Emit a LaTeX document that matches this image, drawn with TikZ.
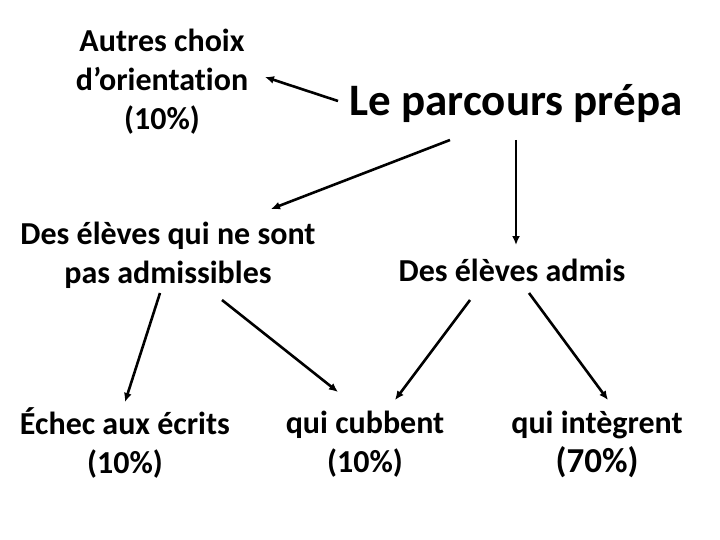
\documentclass[tikz,border=0pt]{standalone}
\usepackage{fontspec}
\setmainfont{Carlito}[Ligatures=NoCommon]
\usetikzlibrary{arrows.meta}
\usetikzlibrary{positioning}

\begin{document}
\begin{tikzpicture}
    [x=1pt,y=-1pt,
    label/.style={align=center,inner sep=0pt,font=\fontsize{32}{39}\selectfont\bfseries},
    title/.style={inner sep=0pt,font=\fontsize{45}{52}\selectfont\bfseries},
    arrow/.style={-{Latex[length=9pt,width=8pt]},line width=2.6pt}]

    \useasboundingbox (0,0) rectangle (720,540);

    \node[label] (autres)    at (162,82)  {Autres choix\\d’orientation\\(10\%)};

    \node[title] (prepa)     at (516,104) {Le parcours prépa};

    \node[label] (nonadmis)  at (168,255) {Des élèves qui ne sont\\pas admissibles};

    \node[label] (admis)     at (512,270) {Des élèves admis};

    \node[label] (echec)     at (125,443) {Échec aux écrits\\(10\%)};

    \node[label] (cubbent)   at (365,444) {qui cubbent\\(10\%)};

    \node[label] (integrent) at (597,444) {qui intègrent\\{\fontsize{35}{39}\selectfont(70\%)}};

    \draw[arrow] ([shift={(-178,-3)}]prepa.center) -- ([shift={(103,-5)}]autres.center);
    \draw[arrow] ([shift={(-66,36)}]prepa.center) -- ([shift={(103,-46)}]nonadmis.center);
    \draw[arrow] ([shift={(0,36)}]prepa.center) -- ([shift={(4,-25)}]admis.center);
    \draw[arrow] ([shift={(-8,38)}]nonadmis.center) -- ([shift={(0,-41)}]echec.center);
    \draw[arrow] ([shift={(54,45)}]nonadmis.center) -- ([shift={(-27,-52)}]cubbent.center);
    \draw[arrow] ([shift={(-42,30)}]admis.center) -- ([shift={(30,-44)}]cubbent.center);
    \draw[arrow] ([shift={(17,23)}]admis.center) -- ([shift={(11,-44)}]integrent.center);

  \end{tikzpicture}
\end{document}
